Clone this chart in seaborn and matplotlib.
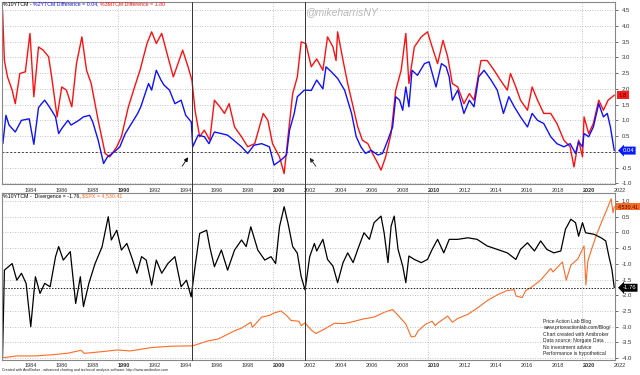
import matplotlib
matplotlib.use('Agg')
import matplotlib.pyplot as plt
import seaborn as sns
import pandas as pd
from matplotlib.transforms import blended_transform_factory
from matplotlib.lines import Line2D

# yield curve spreads (year, value)
spread_2y = [(1982.6, 0.26), (1982.8, 1.16), (1983.0, 0.85), (1983.4, 0.63), (1983.8, 1.0), (1984.3, 1.05),
             (1984.6, 0.24), (1984.9, 1.4), (1985.1, 1.53), (1985.3, 1.64), (1985.6, 1.43), (1986.0, 1.11),
             (1986.2, 0.58), (1986.4, 0.74), (1986.8, 1.0), (1987.0, 0.85), (1987.5, 1.0), (1987.8, 1.11),
             (1988.2, 1.16), (1988.4, 0.95), (1988.75, 0.37), (1989.1, -0.37), (1989.35, -0.16), (1989.8, 0.0),
             (1990.15, 0.16), (1990.5, 0.58), (1990.9, 0.9), (1991.3, 1.22), (1991.5, 1.43), (1992.0, 2.17),
             (1992.2, 1.96), (1992.5, 2.59), (1992.8, 2.28), (1993.0, 2.12), (1993.35, 1.96), (1993.7, 1.53),
             (1994.1, 1.64), (1994.4, 1.16), (1994.76, 0.95), (1994.85, 0.16), (1995.2, 0.53), (1995.6, 0.48),
             (1995.9, 0.26), (1996.25, 0.63), (1996.7, 0.58), (1997.1, 0.53), (1997.5, 0.37), (1998.0, 0.16),
             (1998.4, -0.05), (1998.8, 0.21), (1999.3, 0.26), (1999.8, 0.16), (2000.1, -0.42), (2000.55, -0.26),
             (2000.9, -0.1), (2001.1, 0.69), (2001.4, 1.22), (2001.6, 1.75), (2002.05, 1.96), (2002.5, 1.95),
             (2002.85, 2.28), (2003.25, 2.0), (2003.45, 2.7), (2003.8, 2.54), (2004.2, 2.33), (2004.65, 1.96),
             (2005.1, 1.22), (2005.4, 0.48), (2005.7, 0.16), (2006.0, -0.05), (2006.35, 0.05), (2006.8, -0.1),
             (2007.1, -0.05), (2007.4, 0.32), (2007.75, 0.79), (2007.95, 1.75), (2008.2, 1.64), (2008.4, 1.32),
             (2008.6, 2.06), (2008.8, 1.43), (2009.0, 2.59), (2009.35, 2.43), (2009.8, 2.8), (2010.1, 2.86),
             (2010.55, 2.06), (2010.9, 2.8), (2011.2, 2.7), (2011.4, 2.38), (2011.6, 1.64), (2011.95, 1.96),
             (2012.35, 1.22), (2012.7, 1.64), (2013.0, 1.43), (2013.3, 2.38), (2013.65, 2.59), (2014.1, 2.28),
             (2014.5, 1.96), (2014.9, 1.22), (2015.25, 1.75), (2015.6, 1.43), (2016.0, 1.11), (2016.45, 0.79),
             (2016.75, 1.22), (2017.1, 1.0), (2017.5, 0.9), (2017.95, 0.48), (2018.35, 0.26), (2018.8, 0.16),
             (2019.2, 0.26), (2019.55, -0.05), (2019.75, 0.32), (2020.0, 0.16), (2020.1, 0.58), (2020.4, 0.48),
             (2020.7, 0.79), (2021.05, 1.53), (2021.35, 1.11), (2021.6, 1.22), (2021.8, 0.79), (2022.05, 0.04)]

spread_3m = [(1982.58, 4.5), (1982.7, 2.9), (1982.9, 2.38), (1983.2, 1.96), (1983.4, 1.53), (1983.7, 2.49),
             (1984.05, 2.54), (1984.35, 3.76), (1984.6, 1.75), (1984.9, 3.33), (1985.2, 3.23), (1985.55, 3.02),
             (1985.75, 2.38), (1986.1, 1.11), (1986.4, 2.06), (1986.7, 1.96), (1987.05, 1.43), (1987.35, 2.8),
             (1987.7, 3.65), (1988.0, 2.59), (1988.3, 2.17), (1988.75, 1.0), (1989.2, -0.05), (1989.5, -0.16),
             (1989.95, 0.16), (1990.25, 0.48), (1990.7, 1.43), (1991.1, 2.06), (1991.45, 2.59), (1991.9, 3.44),
             (1992.2, 3.81), (1992.5, 3.44), (1992.85, 3.76), (1993.25, 3.02), (1993.6, 2.38), (1993.9, 2.8),
             (1994.2, 3.23), (1994.55, 2.7), (1994.8, 2.28), (1995.0, 1.32), (1995.3, 0.48), (1995.6, 0.69),
             (1995.95, 0.37), (1996.25, 1.64), (1996.6, 1.43), (1996.9, 1.22), (1997.2, 1.53), (1997.55, 0.79),
             (1998.0, 0.48), (1998.4, 0.16), (1998.85, 0.26), (1999.4, 1.22), (1999.7, 1.0), (2000.0, 0.26),
             (2000.45, -0.16), (2000.75, -0.69), (2001.0, 0.48), (2001.3, 1.85), (2001.6, 2.38), (2001.85, 3.49),
             (2002.15, 3.44), (2002.5, 2.7), (2002.85, 2.95), (2003.25, 2.59), (2003.55, 3.65), (2003.9, 3.33),
             (2004.1, 2.9), (2004.2, 3.81), (2004.55, 2.9), (2004.85, 2.17), (2005.2, 1.43), (2005.5, 0.79),
             (2005.8, 0.37), (2006.15, 0.26), (2006.45, -0.05), (2006.8, -0.37), (2007.0, -0.58), (2007.3, -0.16),
             (2007.65, 0.58), (2007.95, 1.96), (2008.3, 2.59), (2008.6, 3.76), (2008.8, 2.17), (2009.15, 3.33),
             (2009.6, 3.65), (2010.0, 3.81), (2010.3, 3.33), (2010.65, 2.8), (2011.0, 3.54), (2011.3, 3.02),
             (2011.6, 2.17), (2011.95, 2.06), (2012.35, 1.53), (2012.7, 1.85), (2013.0, 1.64), (2013.45, 2.9),
             (2013.85, 2.9), (2014.3, 2.59), (2014.7, 2.28), (2015.15, 1.96), (2015.35, 2.49), (2015.7, 2.06),
             (2016.0, 1.64), (2016.45, 1.32), (2016.75, 2.06), (2017.1, 1.64), (2017.5, 1.22), (2017.95, 1.22),
             (2018.35, 0.9), (2018.8, 0.37), (2019.2, 0.16), (2019.45, -0.48), (2019.75, 0.37), (2020.0, -0.16),
             (2020.1, 1.11), (2020.4, 0.58), (2020.7, 0.9), (2021.05, 1.64), (2021.35, 1.32), (2021.65, 1.64),
             (2022.05, 1.8)]

divergence = [(1982.58, -3.96), (1982.7, -1.2), (1983.2, -0.99), (1983.5, -1.52), (1983.8, -1.3), (1984.1, -1.62),
              (1984.4, -3.0), (1984.7, -1.41), (1985.0, -1.94), (1985.3, -1.62), (1985.65, -1.73), (1986.0, -0.77),
              (1986.2, -0.45), (1986.5, -0.88), (1986.95, -0.61), (1987.3, -2.26), (1987.6, -1.41), (1987.8, -2.36),
              (1988.15, -1.62), (1988.55, -0.99), (1989.0, -0.46), (1989.4, 0.5), (1989.6, -0.24), (1989.95, 0.07),
              (1990.25, -0.56), (1990.6, -0.35), (1990.9, -0.77), (1991.25, -1.3), (1991.55, -0.77), (1991.85, -0.88),
              (1992.2, -1.68), (1992.5, -0.88), (1992.85, -1.3), (1993.25, -0.99), (1993.7, -0.77), (1994.1, -1.73),
              (1994.45, -1.52), (1994.75, -2.05), (1995.0, -1.09), (1995.3, -0.03), (1995.75, 0.07), (1995.95, -0.46),
              (1996.25, -1.09), (1996.7, -0.56), (1997.1, -1.2), (1997.55, -0.56), (1998.0, -0.24), (1998.3, -0.45),
              (1998.6, 0.18), (1999.05, -0.56), (1999.5, -0.88), (1999.9, -0.77), (2000.2, -0.99), (2000.45, 0.18),
              (2000.75, 0.82), (2001.0, 0.29), (2001.3, -0.45), (2001.6, -0.66), (2001.85, -1.41), (2002.1, -1.83),
              (2002.4, -0.77), (2002.7, -0.35), (2002.85, -0.59), (2003.25, -0.22), (2003.55, -0.86), (2003.9, -1.07),
              (2004.2, -1.6), (2004.55, -0.96), (2004.85, -0.65), (2005.2, -0.96), (2005.5, -0.54), (2005.9, -0.01),
              (2006.25, -0.22), (2006.55, 0.31), (2007.0, 0.52), (2007.2, -0.01), (2007.45, -0.96), (2007.65, 0.2),
              (2007.85, 0.52), (2008.1, -0.54), (2008.4, -1.07), (2008.6, -1.6), (2008.8, -0.75), (2009.15, -0.86),
              (2009.6, -0.96), (2010.0, -0.86), (2010.3, -0.54), (2010.65, -0.22), (2011.05, -0.65), (2011.4, -0.22),
              (2011.95, -0.22), (2012.6, -0.17), (2013.2, -0.22), (2013.85, -0.43), (2014.5, -0.54), (2015.15, -0.65),
              (2015.7, -0.86), (2016.0, -0.54), (2016.45, -0.33), (2016.9, -0.59), (2017.3, -0.27), (2017.7, -0.54),
              (2018.15, -0.65), (2018.6, -0.59), (2018.9, 0.1), (2019.25, 0.42), (2019.55, 0.31), (2019.75, -0.12),
              (2020.0, 0.31), (2020.2, -0.01), (2020.75, -0.06), (2021.2, -0.17), (2021.5, -0.27), (2021.7, -0.75),
              (2021.9, -1.18), (2022.05, -1.76)]

spx = [(1982.58, 110), (1983.5, 165), (1984.7, 165), (1985.8, 200), (1986.8, 245), (1987.65, 330), (1987.85, 240),
       (1989.0, 290), (1990.0, 340), (1990.8, 310), (1992.2, 410), (1993.5, 450), (1994.85, 460), (1995.8, 600),
       (1996.5, 660), (1997.55, 900), (1998.0, 980), (1998.6, 1150), (1998.7, 1000), (1999.3, 1300), (1999.8, 1350),
       (2000.1, 1420), (2000.55, 1480), (2000.9, 1350), (2001.2, 1200), (2001.7, 1180), (2001.85, 1050),
       (2002.1, 1130), (2002.5, 920), (2002.8, 820), (2003.35, 950), (2004.0, 1120), (2004.65, 1110),
       (2005.3, 1180), (2005.9, 1250), (2006.55, 1300), (2007.2, 1440), (2007.75, 1520), (2008.1, 1350),
       (2008.6, 1100), (2008.95, 720), (2009.2, 740), (2009.4, 900), (2009.9, 1100), (2010.3, 1180),
       (2010.5, 1050), (2010.65, 1120), (2011.3, 1330), (2011.6, 1150), (2011.95, 1260), (2012.6, 1380),
       (2013.2, 1560), (2013.85, 1780), (2014.5, 1950), (2015.15, 2080), (2015.6, 2100), (2015.7, 1920),
       (2016.1, 1870), (2016.35, 2080), (2016.7, 2170), (2017.3, 2380), (2017.95, 2720), (2018.1, 2620),
       (2018.7, 2910), (2018.95, 2380), (2019.25, 2820), (2019.7, 3000), (2020.1, 3380), (2020.22, 2240),
       (2020.35, 2950), (2020.6, 3300), (2020.9, 3700), (2021.25, 4100), (2021.55, 4420), (2021.85, 4760),
       (2021.97, 4350), (2022.05, 4530)]

year_ticks = list(range(1984, 2023, 2))
decades = [1990, 2000, 2010, 2020]
marker_years = [1994.82, 2002.09]
top_yticks = [-1.0, -0.5, 0.0, 0.5, 1.0, 1.5, 2.0, 2.5, 3.0, 3.5, 4.0, 4.5]
bot_yticks = [-4.0, -3.5, -3.0, -2.5, -2.0, -1.5, -1.0, -0.5, 0.0, 0.5, 1.0]

df2y = pd.DataFrame(spread_2y, columns=['year', 'value'])
df3m = pd.DataFrame(spread_3m, columns=['year', 'value'])
dfdiv = pd.DataFrame(divergence, columns=['year', 'value'])
dfspx = pd.DataFrame(spx, columns=['year', 'value'])

sns.set_style('white')
plt.rcParams['font.family'] = ['Liberation Sans', 'DejaVu Sans']
plt.rcParams['axes.unicode_minus'] = False

fig = plt.figure(figsize=(6.4, 3.75), dpi=100)
ax1 = fig.add_axes([0.003, 0.509, 0.958, 0.485])
ax2 = fig.add_axes([0.003, 0.04, 0.958, 0.4453])
ax3 = ax2.twinx()

XMIN, XMAX = 1982.54, 2022.1

# top pane
sns.lineplot(data=df3m, x='year', y='value', ax=ax1, color='#ff1010', linewidth=1.0)
sns.lineplot(data=df2y, x='year', y='value', ax=ax1, color='#1010ff', linewidth=1.0)
ax1.axhline(0, color='#444444', linestyle=(0, (2, 2)), linewidth=0.7, zorder=1)

# bottom pane (spx on its own hidden scale)
sns.lineplot(data=dfspx, x='year', y='value', ax=ax3, color='#ff6a22', linewidth=0.8)
sns.lineplot(data=dfdiv, x='year', y='value', ax=ax2, color='black', linewidth=0.9)
ax2.set_zorder(ax3.get_zorder() + 1)
ax2.patch.set_visible(False)
ax2.axhline(-1.76, color='#222222', linestyle=(0, (1.5, 1.5)), linewidth=0.7, zorder=1)
ax3.set_ylim(46, 4927)
ax3.set_xlim(XMIN, XMAX)
ax3.set_axis_off()


def style_pane(ax, ylim, yticks, hidden=()):
    ax.set_xlim(XMIN, XMAX)
    ax.set_ylim(*ylim)
    ax.set_xlabel('')
    ax.set_ylabel('')
    ax.yaxis.tick_right()
    ax.set_yticks(yticks)
    ax.set_yticklabels(['' if v in hidden else '%.1f' % v for v in yticks])
    ax.set_xticks(year_ticks)
    ax.set_xticklabels([str(y) for y in year_ticks])
    for lbl, y in zip(ax.get_xticklabels(), year_ticks):
        lbl.set_ha('left')
        if y in decades:
            lbl.set_fontweight('bold')
    ax.tick_params(axis='x', labelsize=4, length=2, pad=0.5, colors='#333333', width=0.5)
    ax.tick_params(axis='y', labelsize=4.3, length=2, pad=3, colors='#333333', width=0.5)
    ax.grid(axis='y', linestyle=(0, (1, 2)), color='#b0b0b0', linewidth=0.6)
    for d in decades:
        ax.axvline(d, linestyle=(0, (1, 2)), color='#b0b0b0', linewidth=0.6, zorder=0)
    for s in ax.spines.values():
        s.set_color('#888888')
        s.set_linewidth(0.8)


# the 0.0 label sits under the last-value tag in the original
style_pane(ax1, (-1.025, 4.75), top_yticks, hidden=(0.0,))
style_pane(ax2, (-4.06, 1.255), bot_yticks)

# vertical marker lines through both panes
for xv in marker_years:
    fig.add_artist(Line2D([xv, xv], [0.04, 0.994], transform=blended_transform_factory(ax1.transData, fig.transFigure),
                          color='#333333', linewidth=0.7))

# arrows at the two yield curve lows
ax1.annotate('', xy=(1994.65, -0.1), xytext=(1994.07, -0.53),
             arrowprops=dict(arrowstyle='-|>', color='black', lw=0.6, mutation_scale=6))
ax1.annotate('', xy=(2002.3, -0.12), xytext=(2002.9, -0.53),
             arrowprops=dict(arrowstyle='-|>', color='#222222', lw=0.6, mutation_scale=6))

# last value tags on the right scale
t1 = blended_transform_factory(ax1.transAxes, ax1.transData)
ax1.text(1.006, 1.8, '1.8', transform=t1, fontsize=4.3, va='center', ha='left', color='#400000', clip_on=False,
         zorder=10, bbox=dict(boxstyle='square,pad=0.3', fc='#ff1a1a', ec='none'))
ax1.text(1.012, 0.04, '0.04', transform=t1, fontsize=4.3, va='center', ha='left', color='white', clip_on=False,
         zorder=10, bbox=dict(boxstyle='larrow,pad=0.25', fc='#0a1aff', ec='none'))
t3 = blended_transform_factory(ax3.transAxes, ax3.transData)
ax3.text(1.004, 4530, '4,530.41', transform=t3, fontsize=3.9, va='center', ha='left', color='#2a1000', clip_on=False,
         zorder=10, bbox=dict(boxstyle='square,pad=0.2', fc='#ff6a22', ec='none'))
t2 = blended_transform_factory(ax2.transAxes, ax2.transData)
ax2.text(1.012, -1.76, '-1.76', transform=t2, fontsize=4.3, va='center', ha='left', color='white', clip_on=False,
         zorder=10, bbox=dict(boxstyle='larrow,pad=0.25', fc='black', ec='none'))


def colored_line(x, y, parts, size):
    r = fig.canvas.get_renderer()
    for s, c in parts:
        t = fig.text(x, y, s, color=c, fontsize=size, va='center', ha='left')
        x += t.get_window_extent(r).width / fig.bbox.width


colored_line(0.004, 0.989, [('%10YTCM - ', 'black'), ('%2YTCM Difference = 0.04, ', '#1010ff'),
                            ('%3MTCM Difference = 1.80', '#ff1010')], 3.8)
colored_line(0.004, 0.477, [('%10YTCM -  Divergence = -1.76, ', 'black'), ('$SPX = 4,530.41', '#ff6a22')], 3.8)

fig.text(0.477, 0.968, '@mikeharrisNY', fontsize=7.5, style='italic', color='#b8b8b8', va='center', ha='left')

notes = ['Price Action Lab Blog', 'www.priceactionlab.com/Blog/', 'Chart created with Amibroker',
         'Data source: Norgate Data', 'No investment advice', 'Performance is hypothetical']
for i, line in enumerate(notes):
    fig.text(543 / 640, 1 - (321 + i * 6.6) / 375, line, fontsize=3.6, color='#222222', va='center', ha='left')

fig.text(0.003, 1 - 370 / 375,
         'Created with AmiBroker - advanced charting and technical analysis software. http://www.amibroker.com',
         fontsize=2.6, color='#222222', va='center', ha='left')

fig.savefig('out.png', dpi=100)
